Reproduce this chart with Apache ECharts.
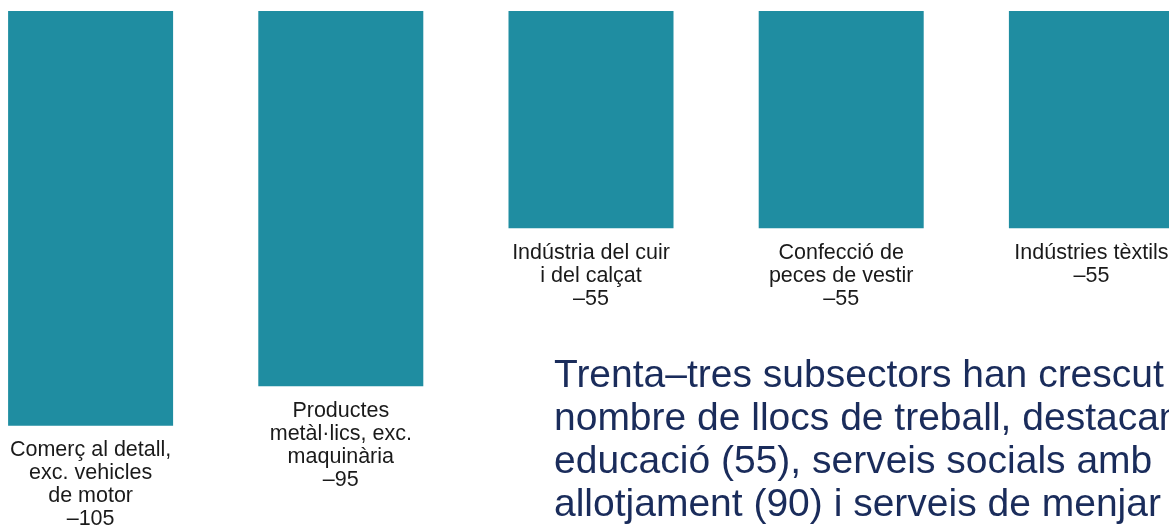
<!DOCTYPE html>
<html><head><meta charset="utf-8">
<script src="https://cdn.jsdelivr.net/npm/echarts@6/dist/echarts.min.js"></script>
<style>html,body{margin:0;padding:0;background:#fff;overflow:hidden}#c{width:1169px;height:529px}</style>
</head><body><div id="c"></div>
<script>
const categories = [
  "Comerç al detall,\nexc. vehicles\nde motor",
  "Productes\nmetàl·lics, exc.\nmaquinària",
  "Indústria del cuir\ni del calçat",
  "Confecció de\npeces de vestir",
  "Indústries tèxtils"
];
const values = [-105, -95, -55, -55, -55];
const noteLines = [
  "Trenta–tres subsectors han crescut en",
  "nombre de llocs de treball, destacant",
  "educació (55), serveis socials amb",
  "allotjament (90) i serveis de menjar i"
];

const chart = echarts.init(document.getElementById('c'), null, {renderer: 'canvas'});
chart.setOption({
  animation: false,
  backgroundColor: '#ffffff',
  grid: {left: -34.5, width: 1251, top: 11, height: 513.5, outerBoundsMode: 'none', containLabel: false},
  xAxis: {
    type: 'category', data: categories, show: false
  },
  yAxis: {
    type: 'value', min: -130, max: 0, show: false
  },
  series: [{
    type: 'bar',
    data: values,
    barWidth: 165,
    itemStyle: {color: '#1f8da1'},
    label: {
      show: true,
      position: 'bottom',
      distance: 13,
      align: 'center',
      fontFamily: 'Liberation Sans, Arial, sans-serif',
      fontSize: 21.5,
      lineHeight: 23,
      color: '#1a1a1a',
      formatter: p => p.name + '\n–' + Math.abs(p.value)
    }
  }],
  graphic: [{
    type: 'text',
    left: 554,
    top: 355,
    style: {
      text: noteLines.join('\n'),
      font: '39px "Liberation Sans", Arial, sans-serif',
      lineHeight: 43,
      fill: '#1a2c5b'
    }
  }]
});
</script></body></html>
